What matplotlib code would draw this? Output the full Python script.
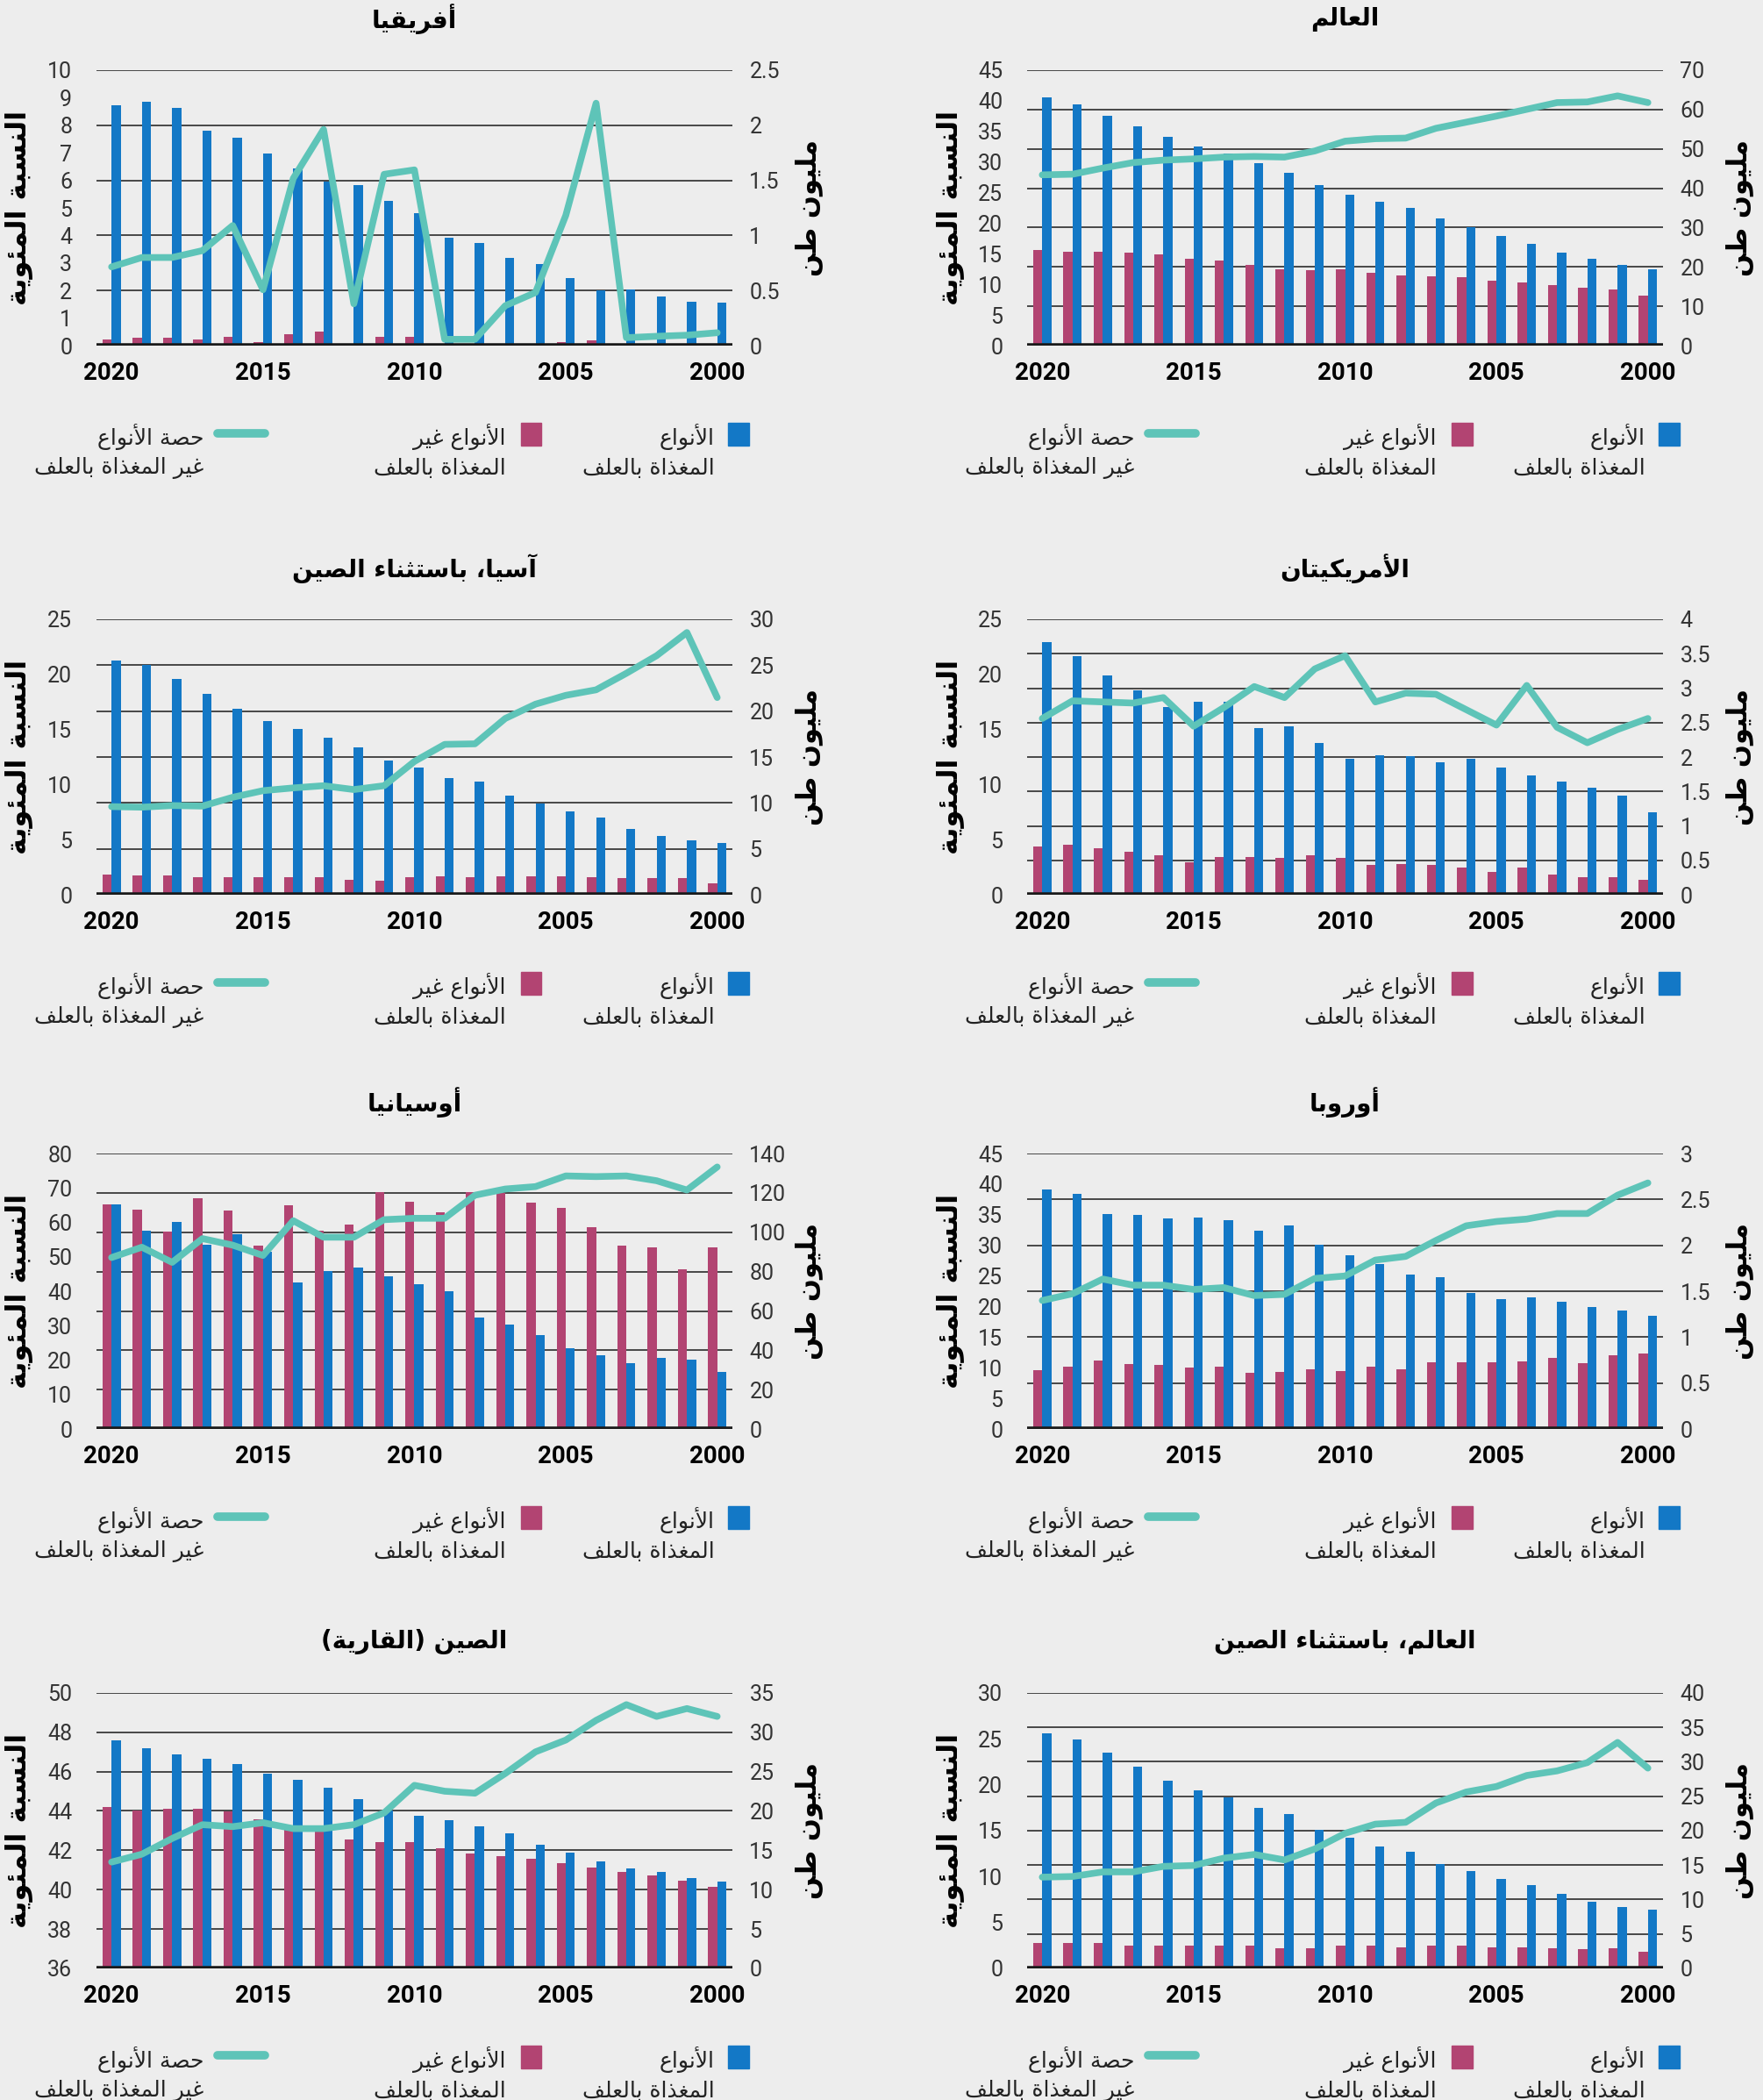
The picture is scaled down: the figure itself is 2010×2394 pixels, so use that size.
import matplotlib
matplotlib.use("Agg")
import matplotlib.pyplot as plt
from matplotlib.patches import Rectangle
from matplotlib.lines import Line2D
import numpy as np

# ---- arabic shaping (matplotlib has no bidi / contextual forms) ----
AR_LETTERS = 'ءآأؤإئابةتثجحخدذرزسشصضطظعغفقكلمنهوىي'
RIGHTJOIN = 'آأؤإادذرزوىة'
FORMS = {}
code = 0xFE80
for ch in AR_LETTERS:
    n = 1 if ch == 'ء' else (2 if ch in RIGHTJOIN else 4)
    FORMS[ch] = [chr(code + k) for k in range(n)]
    code += n
LAM_ALEF = {'آ': 0xFEF5, 'أ': 0xFEF7, 'إ': 0xFEF9, 'ا': 0xFEFB}


def jt(tok):
    if tok is None:
        return 'N'
    if len(tok) == 2:
        return 'R'
    if tok in FORMS:
        n = len(FORMS[tok])
        return 'D' if n == 4 else ('R' if n == 2 else 'N')
    return 'N'


def ar(text):
    toks = []
    i = 0
    while i < len(text):
        if text[i] == 'ل' and i + 1 < len(text) and text[i + 1] in LAM_ALEF:
            toks.append(text[i:i + 2])
            i += 2
        else:
            toks.append(text[i])
            i += 1
    out = []
    for k, t in enumerate(toks):
        prev = toks[k - 1] if k > 0 else None
        nxt = toks[k + 1] if k + 1 < len(toks) else None
        tt = jt(t)
        jp = tt in ('D', 'R') and jt(prev) == 'D'
        jn = tt == 'D' and jt(nxt) in ('D', 'R')
        if len(t) == 2:
            out.append(chr(LAM_ALEF[t[1]] + (1 if jp else 0)))
        elif t in FORMS:
            f = FORMS[t]
            if tt == 'D':
                idx = 3 if (jp and jn) else 1 if jp else 2 if jn else 0
            elif tt == 'R':
                idx = 1 if jp else 0
            else:
                idx = 0
            out.append(f[idx])
        else:
            out.append({'(': ')', ')': '('}.get(t, t))
    return ''.join(reversed(out))


# ---- data (2020 -> 2000) ----
years = [2020, 2019, 2018, 2017, 2016, 2015, 2014, 2013, 2012, 2011, 2010,
         2009, 2008, 2007, 2006, 2005, 2004, 2003, 2002, 2001, 2000]
xticks = [2020, 2015, 2010, 2005, 2000]

world_fed = [63.1, 61.3, 58.4, 55.8, 53.1, 50.5, 48.9, 46.3, 43.9, 40.8, 38.4,
             36.6, 34.9, 32.4, 30.0, 27.9, 25.8, 23.6, 22.1, 20.5, 19.4]
world_nonfed = [24.2, 23.9, 23.9, 23.6, 23.1, 22.1, 21.6, 20.5, 19.4, 19.1, 19.4,
                18.6, 17.9, 17.6, 17.3, 16.6, 16.0, 15.3, 14.7, 14.2, 12.8]
world_share = [27.9, 28.0, 29.0, 29.9, 30.3, 30.5, 30.8, 30.9, 30.8, 31.8, 33.4,
               33.8, 33.9, 35.5, 36.5, 37.5, 38.6, 39.7, 39.8, 40.8, 39.7]

africa_fed = [2.18, 2.21, 2.16, 1.95, 1.89, 1.74, 1.61, 1.49, 1.46, 1.31, 1.20,
              0.98, 0.93, 0.80, 0.74, 0.61, 0.50, 0.51, 0.45, 0.40, 0.39]
africa_nonfed = [0.06, 0.07, 0.07, 0.06, 0.08, 0.03, 0.10, 0.13, 0.02, 0.08, 0.08,
                 0.002, 0.002, 0.012, 0.015, 0.03, 0.048, 0.0015, 0.0015, 0.0015, 0.002]
africa_share = [2.86, 3.2, 3.2, 3.45, 4.36, 2.03, 6.07, 7.85, 1.52, 6.22, 6.38,
                0.23, 0.23, 1.45, 1.93, 4.73, 8.8, 0.29, 0.34, 0.38, 0.47]

americas_fed = [3.67, 3.46, 3.18, 2.97, 2.73, 2.80, 2.80, 2.42, 2.45, 2.21, 1.97,
                2.03, 2.01, 1.92, 1.97, 1.85, 1.73, 1.64, 1.55, 1.44, 1.20]
americas_nonfed = [0.70, 0.73, 0.67, 0.63, 0.58, 0.47, 0.55, 0.55, 0.54, 0.57, 0.54,
                   0.43, 0.45, 0.43, 0.39, 0.33, 0.40, 0.29, 0.25, 0.25, 0.22]
americas_share = [16.0, 17.6, 17.5, 17.4, 17.9, 15.3, 17.0, 18.9, 17.9, 20.5, 21.7,
                  17.5, 18.3, 18.2, 16.8, 15.4, 19.0, 15.2, 13.8, 15.0, 16.0]

asia_fed = [25.5, 25.0, 23.5, 21.9, 20.3, 18.9, 18.1, 17.1, 16.1, 14.6, 13.9,
            12.7, 12.3, 10.8, 9.9, 9.1, 8.4, 7.2, 6.4, 5.9, 5.6]
asia_nonfed = [2.24, 2.1, 2.1, 1.9, 1.9, 1.9, 1.9, 1.9, 1.67, 1.58, 1.9,
               2.0, 1.9, 2.0, 2.0, 2.0, 1.9, 1.8, 1.8, 1.8, 1.23]
asia_share = [8.0, 7.95, 8.1, 8.05, 8.85, 9.45, 9.7, 9.9, 9.55, 9.9, 12.1,
              13.65, 13.7, 16.0, 17.3, 18.1, 18.6, 20.1, 21.7, 23.8, 17.9]

europe_fed = [2.61, 2.56, 2.34, 2.33, 2.29, 2.30, 2.27, 2.16, 2.22, 2.01, 1.89,
              1.80, 1.68, 1.65, 1.48, 1.41, 1.43, 1.39, 1.33, 1.29, 1.23]
europe_nonfed = [0.64, 0.68, 0.75, 0.71, 0.70, 0.67, 0.68, 0.61, 0.62, 0.65, 0.63,
                 0.68, 0.65, 0.73, 0.73, 0.73, 0.74, 0.77, 0.72, 0.80, 0.82]
europe_share = [21.0, 22.1, 24.5, 23.5, 23.5, 22.8, 23.1, 21.8, 22.0, 24.6, 25.0,
                27.6, 28.2, 30.8, 33.2, 33.9, 34.3, 35.2, 35.2, 38.2, 40.2]

oceania_fed = [114, 100.6, 105.3, 93.8, 99, 90, 74.7, 80.1, 82, 77.4, 73.5,
               69.9, 56.8, 53.1, 47.8, 40.9, 37.6, 33.5, 36.2, 35.3, 29.1]
oceania_nonfed = [114, 111.5, 100.4, 117.4, 111, 93.1, 113.7, 100.9, 103.7, 120.6, 115.7,
                  110, 120.3, 119.9, 115.1, 112.5, 102.5, 93.1, 92.1, 81, 92.5]
oceania_share = [49.8, 52.8, 48.4, 55.3, 53.4, 50.4, 60.5, 55.7, 55.7, 60.8, 61.2,
                 61.2, 67.9, 69.7, 70.4, 73.5, 73.3, 73.5, 72.1, 69.4, 76.1]

wexc_fed = [34.1, 33.2, 31.3, 29.3, 27.2, 25.8, 24.8, 23.3, 22.4, 20.1, 18.9,
            17.7, 16.9, 15.2, 14.1, 13.0, 12.1, 10.8, 9.7, 8.9, 8.5]
wexc_nonfed = [3.66, 3.66, 3.66, 3.36, 3.36, 3.24, 3.24, 3.24, 2.9, 2.9, 3.24,
               3.24, 3.07, 3.24, 3.24, 3.07, 3.07, 2.9, 2.77, 2.9, 2.35]
wexc_share = [9.93, 10.0, 10.5, 10.5, 11.1, 11.2, 12.0, 12.4, 11.8, 13.0, 14.7,
              15.7, 15.9, 18.0, 19.2, 19.8, 21.0, 21.5, 22.4, 24.6, 21.8]

china_fed = [29.0, 28.0, 27.2, 26.6, 26.0, 24.7, 24.0, 22.9, 21.5, 20.1, 19.4,
             18.8, 18.0, 17.1, 15.7, 14.7, 13.6, 12.7, 12.3, 11.5, 11.0]
china_nonfed = [20.5, 20.1, 20.3, 20.3, 19.9, 18.9, 18.2, 18.0, 16.4, 16.0, 16.0,
                15.3, 14.6, 14.3, 13.9, 13.4, 12.8, 12.3, 11.8, 11.1, 10.4]
china_share = [41.4, 41.8, 42.6, 43.3, 43.2, 43.4, 43.1, 43.1, 43.3, 43.9, 45.3,
               45.0, 44.9, 45.9, 47.0, 47.6, 48.6, 49.4, 48.8, 49.2, 48.8]

BLUE = '#1378c6'
MAGENTA = '#b24472'
TEAL = '#5ec4b8'
BG = '#ededed'
NUMFONT = ['Roboto', 'DejaVu Sans']
ARFONT = 'DejaVu Sans'

# (row, col, title, fed, nonfed, share, left (lo, hi, step), right (lo, hi, step))
panels = [
    (0, 1, 'العالم', world_fed, world_nonfed, world_share, (0, 45, 5), (0, 70, 10)),
    (0, 0, 'أفريقيا', africa_fed, africa_nonfed, africa_share, (0, 10, 1), (0, 2.5, 0.5)),
    (1, 1, 'الأمريكيتان', americas_fed, americas_nonfed, americas_share, (0, 25, 5), (0, 4, 0.5)),
    (1, 0, 'آسيا، باستثناء الصين', asia_fed, asia_nonfed, asia_share, (0, 25, 5), (0, 30, 5)),
    (2, 1, 'أوروبا', europe_fed, europe_nonfed, europe_share, (0, 45, 5), (0, 3, 0.5)),
    (2, 0, 'أوسيانيا', oceania_fed, oceania_nonfed, oceania_share, (0, 80, 10), (0, 140, 20)),
    (3, 1, 'العالم، باستثناء الصين', wexc_fed, wexc_nonfed, wexc_share, (0, 30, 5), (0, 40, 5)),
    (3, 0, 'الصين (القارية)', china_fed, china_nonfed, china_share, (36, 50, 2), (0, 35, 5)),
]

col_x = [0.0547, 0.5826]
row_y = [0.8354, 0.5739, 0.3195, 0.0627]
W, H = 0.3607, 0.1312

fig = plt.figure(figsize=(20.1, 23.94), dpi=100, facecolor=BG)


def ticks(lo, hi, step):
    return np.arange(lo, hi + step / 2, step)


for row, col, title, fed, nonfed, share, lft, rgt in panels:
    ax = fig.add_axes([col_x[col], row_y[row], W, H])
    ax2 = ax.twinx()
    ax.set_zorder(ax2.get_zorder() + 1)
    ax.patch.set_visible(False)
    ax2.patch.set_visible(False)

    x = np.array(years)
    ax2.bar(x + 0.15, nonfed, width=0.3, color=MAGENTA, zorder=2)
    ax2.bar(x - 0.15, fed, width=0.3, color=BLUE, zorder=2)
    ax2.axhline(0, color='#1a1a1a', lw=4, zorder=4)
    ax.plot(x, share, color=TEAL, lw=5.5, solid_joinstyle='round',
            solid_capstyle='round', zorder=5)

    ax.set_xlim(2020.5, 1999.5)
    ax.set_ylim(lft[0], lft[1])
    ax2.set_ylim(rgt[0], rgt[1])
    lt = ticks(*lft)
    rt = ticks(*rgt)
    ax.set_yticks(lt)
    ax.set_yticklabels([f'{v:g}' for v in lt])
    ax2.set_yticks(rt)
    ax2.set_yticklabels([f'{v:g}' for v in rt])
    ax2.set_axisbelow(True)
    ax2.yaxis.grid(True, color='#3a3a3a', lw=1.3)

    ax.set_xticks(xticks)
    ax.set_xticklabels([str(v) for v in xticks])

    for a in (ax, ax2):
        for s in a.spines.values():
            s.set_visible(False)
    ax.tick_params(axis='y', length=0, pad=20, labelsize=18, labelcolor='#333333')
    ax2.tick_params(axis='y', length=0, pad=14, labelsize=18, labelcolor='#333333')
    ax.tick_params(axis='x', length=0, pad=13, labelsize=20)
    for lab in ax.get_yticklabels() + ax2.get_yticklabels():
        lab.set_fontfamily(NUMFONT)
    for lab in ax.get_xticklabels():
        lab.set_fontfamily(NUMFONT)
        lab.set_fontweight('bold')

    ax.text(0.5, 1.185, ar(title), transform=ax.transAxes, ha='center', va='center',
            fontsize=20, fontweight='bold', family=ARFONT)
    ax.text(-0.122, 0.5, ar('النسبة المئوية'), transform=ax.transAxes, rotation=90,
            ha='center', va='center', fontsize=23, fontweight='bold', family=ARFONT)
    ax.text(1.12, 0.5, ar('مليون طن'), transform=ax.transAxes, rotation=90,
            ha='center', va='center', fontsize=22, fontweight='bold', family=ARFONT)

    # legend
    ax.add_patch(Rectangle((0.993, -0.362), 0.033, 0.083, transform=ax.transAxes,
                           clip_on=False, color=BLUE))
    ax.add_patch(Rectangle((0.667, -0.362), 0.033, 0.083, transform=ax.transAxes,
                           clip_on=False, color=MAGENTA))
    ax.add_line(Line2D([0.19, 0.265], [-0.317, -0.317], transform=ax.transAxes,
                       color=TEAL, lw=7, solid_capstyle='round', clip_on=False))
    legend_items = [
        (0.972, 'الأنواع', 'المغذاة بالعلف'),
        (0.644, 'الأنواع غير', 'المغذاة بالعلف'),
        (0.169, 'حصة الأنواع', 'غير المغذاة بالعلف'),
    ]
    for lx, l1, l2 in legend_items:
        ax.text(lx, -0.33, ar(l1), transform=ax.transAxes, ha='right', va='center',
                fontsize=18, family=ARFONT, color='#222222')
        ax.text(lx, -0.445, ar(l2), transform=ax.transAxes, ha='right', va='center',
                fontsize=18, family=ARFONT, color='#222222')

fig.savefig('out.png', dpi=100, facecolor=BG)
